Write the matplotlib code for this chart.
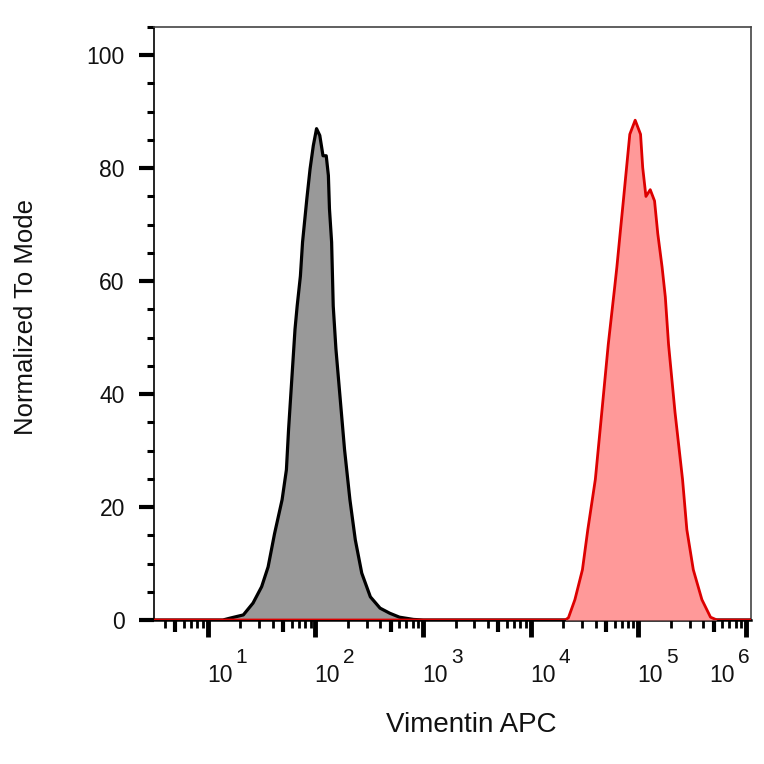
import numpy as np
import matplotlib
matplotlib.use("Agg")
import matplotlib.pyplot as plt
from matplotlib.ticker import FixedLocator, MultipleLocator, NullFormatter, NullLocator

plt.rcParams['font.family'] = ['Liberation Sans', 'DejaVu Sans']

# ---- data (x as log10 of intensity, y as % of mode) ----
gray_log10_x = [0.5, 1.14, 1.20, 1.33, 1.42, 1.50, 1.56, 1.62, 1.69, 1.73, 1.75, 1.78,
                1.81, 1.83, 1.86, 1.88, 1.92, 1.95, 1.98, 2.01, 2.04, 2.07, 2.10, 2.12,
                2.13, 2.150, 2.165, 2.19, 2.23, 2.27, 2.32, 2.37, 2.43, 2.51, 2.60, 2.69,
                2.78, 2.91, 3.00, 6.05]
gray_y = [0, 0, 0.3, 0.9, 3.0, 5.9, 9.4, 15.3, 21.3, 26.6, 33.7, 42.6,
          51.5, 55.6, 60.9, 66.9, 74.6, 79.9, 84.0, 87.0, 85.8, 82.2, 82.2, 78.7,
          72.8, 66.9, 55.6, 48.0, 39.1, 30.2, 21.3, 14.2, 8.3, 4.1, 2.1, 1.2,
          0.5, 0.1, 0, 0]

red_log10_x = [0.5, 4.32, 4.35, 4.41, 4.48, 4.53, 4.60, 4.66, 4.72, 4.78, 4.80, 4.83,
               4.86, 4.89, 4.92, 4.97, 5.02, 5.04, 5.07, 5.11, 5.15, 5.18, 5.22, 5.25,
               5.28, 5.34, 5.41, 5.45, 5.51, 5.59, 5.67, 5.73, 6.05]
red_y = [0, 0, 0.4, 3.6, 8.9, 16.0, 24.9, 36.8, 48.8, 59.0, 62.5, 68.4,
         74.2, 80.1, 86.0, 88.5, 86.0, 80.1, 75.0, 76.2, 74.2, 68.4, 62.5, 57.2,
         48.8, 36.8, 24.9, 16.0, 8.9, 3.6, 0.5, 0, 0]

y_ticks = [0, 20, 40, 60, 80, 100]
x_decades = [1, 2, 3, 4, 5, 6]
x_label = "Vimentin APC"
y_label = "Normalized To Mode"

# ---- figure ----
W = 764
fig = plt.figure(figsize=(7.64, 7.64), dpi=100)
ax = fig.add_axes([154 / W, 144 / W, 597 / W, 593 / W])
ax.set_xscale('log')
ax.set_xlim(10 ** 0.5, 10 ** 6.046)
ax.set_ylim(0, 105)

gx = 10 ** np.array(gray_log10_x)
rx = 10 ** np.array(red_log10_x)
ax.fill_between(gx, gray_y, 0, color='#999999', lw=0, zorder=2)
ax.plot(gx, gray_y, color='black', lw=2.3, zorder=3, solid_joinstyle='round')
ax.fill_between(rx, red_y, 0, color='#FF9999', lw=0, zorder=4)
ax.plot(rx, red_y, color='#DD0000', lw=2.0, zorder=5, solid_joinstyle='round')

# y axis
ax.yaxis.set_major_locator(FixedLocator(y_ticks))
ax.yaxis.set_minor_locator(MultipleLocator(5))
ax.set_yticklabels([str(v) for v in y_ticks])
ax.tick_params(axis='y', which='major', direction='out', length=11, width=3,
               pad=10, labelsize=16.5, labelcolor='#111111')
ax.tick_params(axis='y', which='minor', direction='out', length=5, width=2.2)

# x axis
decade_vals = [10 ** k for k in x_decades]
ax.xaxis.set_major_locator(FixedLocator(decade_vals))
ax.xaxis.set_major_formatter(NullFormatter())
minor_vals = [m * 10 ** k for k in range(0, 6) for m in (2, 3, 4, 6, 7, 8, 9)]
ax.xaxis.set_minor_locator(FixedLocator(minor_vals))
ax.xaxis.set_minor_formatter(NullFormatter())
ax.tick_params(axis='x', which='major', direction='out', length=12, width=3.5)
ax.tick_params(axis='x', which='minor', direction='out', length=5.5, width=2)

sec = ax.secondary_xaxis('bottom')
sec.set_xticks([5 * 10 ** k for k in range(0, 6)])
sec.xaxis.set_minor_locator(NullLocator())
sec.tick_params(axis='x', which='major', direction='out', length=8.5, width=3,
                labelbottom=False)
sec.spines['bottom'].set_visible(False)

pt = 72 / 100.0
for k, v in zip(x_decades, decade_vals):
    shift = -37 if k == 6 else -1
    ax.annotate("10", xy=(v, 0), xycoords=('data', 'axes fraction'),
                xytext=(shift * pt, -62 * pt), textcoords='offset points',
                ha='left', va='baseline', fontsize=16.5, color='#111111')
    ax.annotate(str(k), xy=(v, 0), xycoords=('data', 'axes fraction'),
                xytext=((shift + 29) * pt, -43 * pt), textcoords='offset points',
                ha='left', va='baseline', fontsize=15, color='#111111')

# spines
ax.spines['bottom'].set_linewidth(1.8)
ax.spines['bottom'].set_color('black')
ax.spines['left'].set_linewidth(1.2)
ax.spines['left'].set_color('black')
for s in ('top', 'right'):
    ax.spines[s].set_linewidth(1.2)
    ax.spines[s].set_color('#444444')

# labels
ax.set_xlabel(x_label, fontsize=20, color='#111111', va='baseline')
ax.xaxis.set_label_coords((471 - 154) / 597, (620 - 732) / 593)
ax.set_ylabel(y_label, fontsize=18.5, color='#111111', va='center')
ax.yaxis.set_label_coords((26 - 154) / 597, (620 - 317) / 593)

fig.savefig('out.png', dpi=100, facecolor='white')
